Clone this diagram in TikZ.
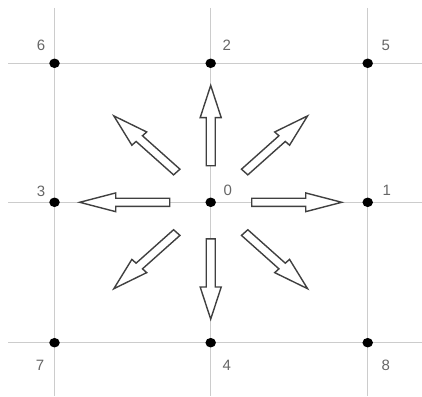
\documentclass[tikz,border=0pt]{standalone}
\usepackage{fontspec}
\setmainfont{Liberation Sans}
\usetikzlibrary{shapes.geometric}
\begin{document}
\begin{tikzpicture}[x=1pt,y=1pt,
  gridline/.style={draw=black!20, line width=1.3pt},
  dot/.style={ellipse, fill=black, inner sep=0pt, minimum width=10.5pt, minimum height=9.5pt},
  lbl/.style={text=black!60, font=\fontsize{15}{16}\selectfont, inner sep=0pt},
  blk/.style={draw=black!75, fill=white, line width=1.4pt, line join=miter}]
\useasboundingbox (0,0) rectangle (422,396);
% grid lines
\foreach \x in {54.5,210.7,367.7} \draw[gridline] (\x,388) -- (\x,0);
\foreach \y in {332.7,193.7,53.3} \draw[gridline] (8,\y) -- (422,\y);
% dots
\node[dot] (n6) at (54.5,332.7) {};
\node[dot] (n2) at (210.7,332.7) {};
\node[dot] (n5) at (367.7,332.7) {};
\node[dot] (n3) at (54.5,193.7) {};
\node[dot] (n0) at (210.7,193.7) {};
\node[dot] (n1) at (367.7,193.7) {};
\node[dot] (n7) at (54.5,53.3) {};
\node[dot] (n4) at (210.7,53.3) {};
\node[dot] (n8) at (367.7,53.3) {};
% labels
\node[lbl] (l6) at (41,351) {6};
\node[lbl] (l2) at (226.7,351) {2};
\node[lbl] (l5) at (385.7,351) {5};
\node[lbl] (l3) at (41,204.3) {3};
\node[lbl] (l0) at (227.7,205.3) {0};
\node[lbl] (l1) at (386.7,205.3) {1};
\node[lbl] (l7) at (40,31) {7};
\node[lbl] (l4) at (226.7,31) {4};
\node[lbl] (l8) at (385.7,31) {8};
% block arrows
\begin{scope}[shift={(210.7,193.7)}, yscale=0.892]
  \foreach \a/\ra/\rb in {0/41/131, 90/41/131, 180/41/131, 270/41/131,
                          45/48/137, 135/48/137, 225/48/137, 315/48/137} {
    \begin{scope}[rotate=\a]
      \draw[blk] (\ra,-4.5) -- (\rb-36,-4.5) -- (\rb-36,-10.5) -- (\rb,0)
        -- (\rb-36,10.5) -- (\rb-36,4.5) -- (\ra,4.5) -- cycle;
    \end{scope}
  }
\end{scope}
\end{tikzpicture}
\end{document}
